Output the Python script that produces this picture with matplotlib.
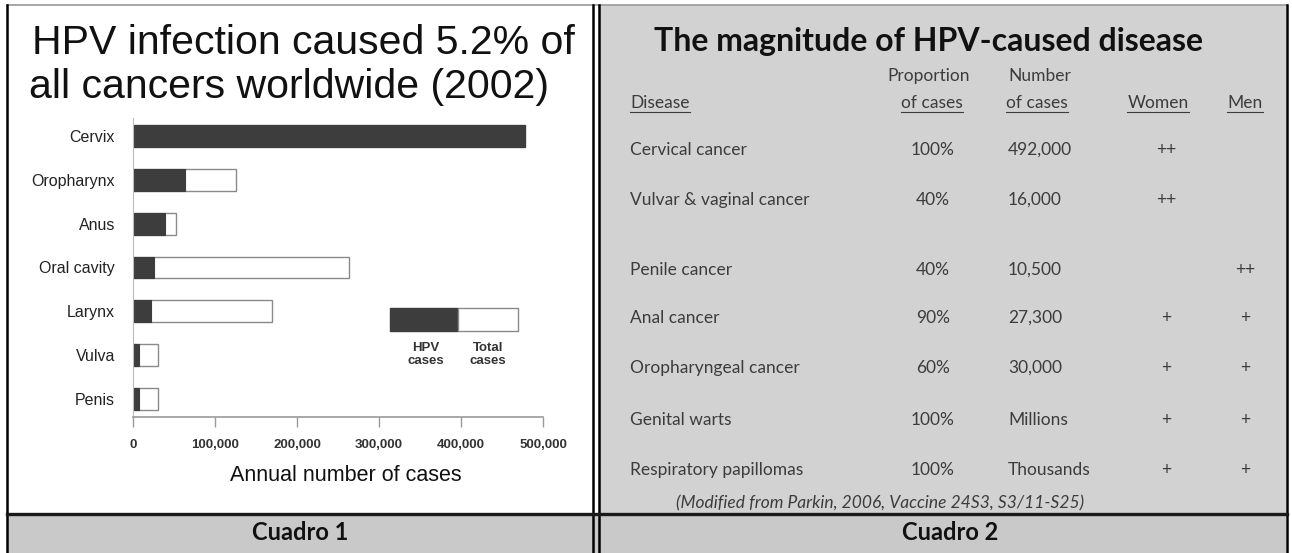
import matplotlib
matplotlib.use("Agg")
import matplotlib.pyplot as plt
from matplotlib.patches import Rectangle
from matplotlib.ticker import FuncFormatter

# ---- data: left panel (bar chart) ----
sites = ["Cervix", "Oropharynx", "Anus", "Oral cavity", "Larynx", "Vulva", "Penis"]
hpv_cases = [478000, 63000, 39000, 25000, 22000, 7000, 7000]
total_cases = [478000, 126000, 52000, 263000, 170000, 31000, 31000]
x_ticks = [0, 100000, 200000, 300000, 400000, 500000]

# ---- data: right panel (table) ----
diseases = ["Cervical cancer", "Vulvar & vaginal cancer", "Penile cancer", "Anal cancer",
            "Oropharyngeal cancer", "Genital warts", "Respiratory papillomas"]
proportions = ["100%", "40%", "40%", "90%", "60%", "100%", "100%"]
numbers = ["492,000", "16,000", "10,500", "27,300", "30,000", "Millions", "Thousands"]
women = ["++", "++", "", "+", "+", "+", "+"]
men = ["", "", "++", "+", "+", "+", "+"]

W, H = 1292, 553
DARK = "#3d3d3d"
PANEL_GREY = "#d2d2d2"
BAND_GREY = "#c9c9c9"
TABLE_TXT = "#3c3c3c"

fig = plt.figure(figsize=(W / 100, H / 100), dpi=100)
fig.patch.set_facecolor("white")

# background axes in pixel coordinates for the frame, panels and table
bg = fig.add_axes([0, 0, 1, 1], zorder=0)
bg.set_xlim(0, W)
bg.set_ylim(H, 0)
bg.axis("off")

# panels
bg.add_patch(Rectangle((8, 5), 585, 509, facecolor="white", edgecolor="none"))
bg.add_patch(Rectangle((599, 5), 687, 509, facecolor=PANEL_GREY, edgecolor="none"))
bg.add_patch(Rectangle((8, 514), 1278, 39, facecolor=BAND_GREY, edgecolor="none"))

# frame lines
bg.plot([7, 1287], [5, 5], color="#9a9a9a", lw=1.2)
bg.plot([7, 7], [5, H], color="black", lw=1.8)
bg.plot([1287, 1287], [5, H], color="black", lw=1.8)
bg.plot([593, 593], [5, H], color="black", lw=1.8)
bg.plot([599, 599], [5, H], color="black", lw=1.8)
bg.plot([7, 1287], [514, 514], color="#1a1a1a", lw=2.4)

bg.text(300, 533, "Cuadro 1", ha="center", va="center", fontsize=17,
        fontweight="bold", family="Lato", color="#111111")
bg.text(950, 533, "Cuadro 2", ha="center", va="center", fontsize=17,
        fontweight="bold", family="Lato", color="#111111")

# left title
bg.text(303, 43, "HPV infection caused 5.2% of", ha="center", va="center",
        fontsize=29.5, family="Liberation Sans", color="#111111")
bg.text(289, 87, "all cancers worldwide (2002)", ha="center", va="center",
        fontsize=29.5, family="Liberation Sans", color="#111111")

# right title
bg.text(928, 42, "The magnitude of HPV-caused disease", ha="center", va="center",
        fontsize=23, fontweight="bold", family="Lato", color="#111111")

# table header
hdr_kw = dict(fontsize=12.5, family="Lato", color=TABLE_TXT, va="center")
bg.text(929, 76, "Proportion", ha="center", **hdr_kw)
bg.text(1008, 76, "Number", ha="left", **hdr_kw)
underlined = [
    bg.text(630, 103, "Disease", ha="left", **hdr_kw),
    bg.text(932, 103, "of cases", ha="center", **hdr_kw),
    bg.text(1006, 103, "of cases", ha="left", **hdr_kw),
    bg.text(1158, 103, "Women", ha="center", **hdr_kw),
    bg.text(1245, 103, "Men", ha="center", **hdr_kw),
]

row_y = [150, 200, 270, 318, 368, 420, 470]
cell_kw = dict(fontsize=12.5, family="Lato", color=TABLE_TXT, va="center")
for i, y in enumerate(row_y):
    bg.text(630, y, diseases[i], ha="left", **cell_kw)
    bg.text(933, y, proportions[i], ha="center", **cell_kw)
    bg.text(1008, y, numbers[i], ha="left", **cell_kw)
    bg.text(1166, y, women[i], ha="center", **cell_kw)
    bg.text(1245, y, men[i], ha="center", **cell_kw)

bg.text(880, 503, "(Modified from Parkin, 2006, Vaccine 24S3, S3/11-S25)",
        ha="center", va="center", fontsize=12.5, style="italic",
        family="Lato", color=TABLE_TXT)

# ---- bar chart ----
ax = fig.add_axes([133 / W, 1 - 417 / H, 410 / W, 299 / H], zorder=1)
ax.patch.set_alpha(0)
ypos = list(range(len(sites)))
ax.barh(ypos, total_cases, height=0.5, color="white", edgecolor="#8a8a8a", linewidth=1)
ax.barh(ypos, hpv_cases, height=0.5, color=DARK, edgecolor=DARK, linewidth=0.8)
ax.set_ylim(len(sites) - 0.6, -0.4)
ax.set_xlim(0, 500000)
ax.set_yticks(ypos)
ax.set_yticklabels(sites, family="Liberation Sans", fontsize=11.5, color="#222222")
ax.set_xticks(x_ticks)
ax.xaxis.set_major_formatter(FuncFormatter(lambda v, p: "{:,.0f}".format(v)))
for lab in ax.get_xticklabels():
    lab.set_family("Liberation Sans")
    lab.set_fontsize(9.5)
    lab.set_fontweight("bold")
    lab.set_color("#333333")
ax.tick_params(axis="y", length=0, pad=13)
ax.tick_params(axis="x", direction="out", length=7, width=1, color="#999999", pad=9)
for s in ["top", "right"]:
    ax.spines[s].set_visible(False)
ax.spines["left"].set_color("#bbbbbb")
ax.spines["bottom"].set_color("#999999")
ax.spines["bottom"].set_linewidth(1.2)
ax.set_xlabel("Annual number of cases", family="Liberation Sans", fontsize=15.5,
              color="#111111")
ax.xaxis.set_label_coords(0.52, -0.16)

# key box
ax.add_patch(Rectangle((0.627, 0.288), 0.166, 0.075, transform=ax.transAxes,
                       facecolor=DARK, edgecolor=DARK, clip_on=False))
ax.add_patch(Rectangle((0.793, 0.288), 0.146, 0.075, transform=ax.transAxes,
                       facecolor="white", edgecolor="#8a8a8a", clip_on=False))
key_kw = dict(transform=ax.transAxes, ha="center", va="center", fontsize=9.5,
              fontweight="bold", family="Liberation Sans", color="#333333",
              linespacing=1.1)
ax.text(0.714, 0.21, "HPV\ncases", **key_kw)
ax.text(0.866, 0.21, "Total\ncases", **key_kw)

# underline table header cells
fig.canvas.draw()
inv = bg.transData.inverted()
for t in underlined:
    bb = t.get_window_extent()
    (x0, y0), (x1, y1) = inv.transform([(bb.x0, bb.y0), (bb.x1, bb.y1)])
    bg.plot([x0, x1], [y0 + 1, y0 + 1], color=TABLE_TXT, lw=0.8)

fig.savefig("out.png", dpi=100)
